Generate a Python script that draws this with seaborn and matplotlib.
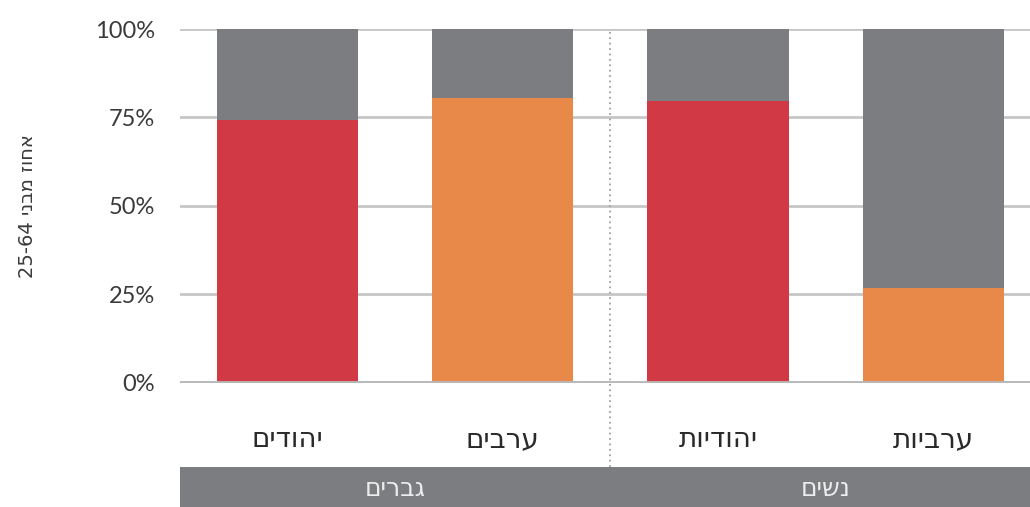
import matplotlib
matplotlib.use('Agg')
import matplotlib.pyplot as plt
import seaborn as sns
import pandas as pd

# categories (logical Hebrew order) and shares of age 25-64
categories = ['יהודים', 'ערבים', 'יהודיות', 'ערביות']
shares = [74.3, 80.5, 79.7, 26.8]
bar_colors = ['#d13a45', '#e8894a', '#d13a45', '#e8894a']
groups = ['גברים', 'נשים']
y_ticks = [0, 25, 50, 75, 100]
y_label = 'אחוז מבני 25-64'


def vis(s):
    # matplotlib has no bidi support, so flip Hebrew runs for display
    return ' '.join(w if not any('\u0590' <= c <= '\u05ff' for c in w) else w[::-1]
                    for w in s.split(' ')[::-1])


df = pd.DataFrame({'cat': [vis(c) for c in categories], 'share': shares, 'total': 100})

sns.set_style('white')
heb_font = ['DejaVu Sans']
plt.rcParams['font.family'] = ['Lato', 'DejaVu Sans']

fig = plt.figure(figsize=(10.3, 5.07), dpi=100)
ax = fig.add_axes([0.1748, 0.2446, 0.8252, 0.6982])

sns.barplot(data=df, x='cat', y='total', color='#7b7d80', width=0.656,
            saturation=1, linewidth=0, ax=ax, zorder=2)
sns.barplot(data=df, x='cat', y='share', hue='cat', palette=bar_colors, width=0.656,
            saturation=1, linewidth=0, legend=False, ax=ax, zorder=3)

ax.set_xlim(-0.5, 3.45)
ax.set_ylim(0, 100)
ax.set_yticks(y_ticks)
ax.set_yticklabels([f'{t}%' for t in y_ticks], fontsize=17, color='#3a3a3a')
ax.tick_params(axis='y', length=0, pad=18)
ax.tick_params(axis='x', length=0, pad=30)
for lab in ax.get_xticklabels():
    lab.set_fontfamily(heb_font)
    lab.set_fontsize(20)
    lab.set_color('#2a2a2a')
ax.set_xlabel('')
ax.set_ylabel(vis(y_label), fontsize=14, color='#3a3a3a', family=heb_font, labelpad=42)

for t in y_ticks[1:]:
    ax.axhline(t, color='#c6c6c6', lw=2, zorder=1)
ax.axhline(0, color='#b8b8b8', lw=3.5, zorder=4)
for s in ax.spines.values():
    s.set_visible(False)

# dotted separator between groups
ax.plot([1.5, 1.5], [-23.7, 100], ls=(0, (1, 2)), color='#a0a0a0', lw=1.3,
        clip_on=False, zorder=1)

# group band
band = fig.add_axes([0.1748, 0, 0.8252, 40 / 507])
band.set_facecolor('#7b7d80')
band.set_xlim(ax.get_xlim())
band.set_ylim(0, 1)
band.set_xticks([])
band.set_yticks([])
for s in band.spines.values():
    s.set_visible(False)
for i, g in enumerate(groups):
    band.text(0.5 + 2 * i, 0.45, vis(g), ha='center', va='center', fontsize=18,
              color='#ececec', family=heb_font)

fig.savefig('out.png', dpi=100)
